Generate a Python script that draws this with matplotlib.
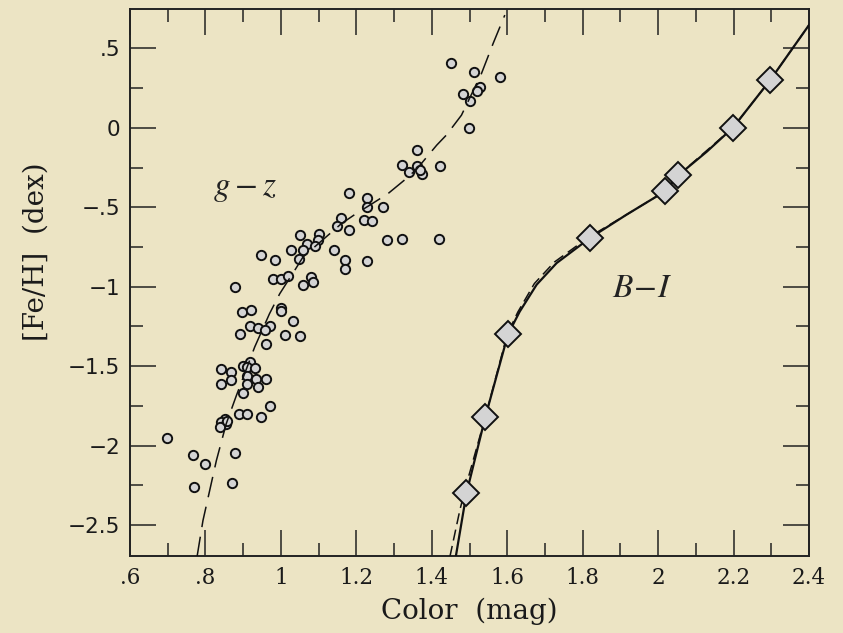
import matplotlib
matplotlib.use("Agg")
import matplotlib.pyplot as plt
from matplotlib.ticker import MultipleLocator, FixedLocator

plt.rcParams['lines.scale_dashes'] = False
plt.rcParams['mathtext.fontset'] = 'stix'

# ---- g-z individual clusters (open circles) ----
gz_x = [1.450, 1.511, 1.581, 1.527, 1.519, 1.482, 1.501, 1.499,
        1.360, 1.320, 1.360, 1.340, 1.373, 1.368, 1.421,
        1.180, 1.229, 1.229, 1.271,
        1.160, 1.148, 1.220, 1.242, 1.180,
        1.280, 1.320, 1.419,
        1.050, 1.100, 1.098, 1.070, 1.090, 1.028, 1.059, 1.048, 0.984, 0.948,
        1.140, 1.171, 1.171, 1.229,
        0.979, 1.001, 1.019, 1.081, 1.084, 1.059, 0.879,
        0.999, 0.999, 0.898, 0.922, 1.031,
        0.917, 0.939, 0.970, 0.957, 0.891, 1.010, 1.050, 0.960,
        0.840, 0.869, 0.869, 0.840, 0.900, 0.919, 0.910, 0.931, 0.910, 0.935,
        0.960, 0.910, 0.939, 0.900, 0.970, 0.889, 0.910, 0.948,
        0.851, 0.842, 0.855, 0.838, 0.858,
        0.698, 0.767, 0.800, 0.879, 0.769, 0.870]
gz_y = [0.41, 0.35, 0.32, 0.26, 0.23, 0.21, 0.17, 0.00,
        -0.14, -0.235, -0.24, -0.28, -0.29, -0.265, -0.24,
        -0.41, -0.44, -0.50, -0.50,
        -0.565, -0.62, -0.578, -0.586, -0.64,
        -0.708, -0.697, -0.697,
        -0.675, -0.666, -0.708, -0.729, -0.746, -0.768, -0.771, -0.828, -0.834, -0.798,
        -0.767, -0.834, -0.886, -0.838,
        -0.949, -0.949, -0.93, -0.939, -0.970, -0.991, -1.002,
        -1.132, -1.153, -1.160, -1.149, -1.216,
        -1.25, -1.258, -1.25, -1.275, -1.296, -1.307, -1.313, -1.363,
        -1.516, -1.538, -1.586, -1.615, -1.496, -1.475, -1.506, -1.510, -1.559, -1.579,
        -1.579, -1.615, -1.632, -1.670, -1.748, -1.80, -1.80, -1.821,
        -1.832, -1.853, -1.863, -1.884, -1.845,
        -1.951, -2.058, -2.115, -2.048, -2.258, -2.237]

# ---- g-z relation (dashed curve) ----
gzfit_x = [0.7775, 0.7934, 0.829, 0.855, 0.882, 0.9305, 0.9698, 0.997, 1.0366, 1.0587,
           1.125, 1.1605, 1.2019, 1.2355, 1.284, 1.327, 1.36, 1.4131, 1.4389, 1.4787,
           1.5318, 1.5627, 1.5936]
gzfit_y = [-2.703, -2.472, -2.094, -1.863, -1.685, -1.38, -1.170, -1.044, -0.897, -0.813,
           -0.676, -0.603, -0.536, -0.487, -0.414, -0.33, -0.26, -0.109, -0.045, 0.0797,
           0.3424, 0.5315, 0.7098]

# ---- B-I relation (diamonds + solid curve + dashed curve) ----
bi_x = [1.492, 1.542, 1.602, 1.819, 2.018, 2.053, 2.198, 2.297]
bi_y = [-2.30, -1.82, -1.30, -0.694, -0.40, -0.30, 0.0, 0.30]

bicurve_x = [1.4636, 1.492, 1.542, 1.602, 1.633, 1.678, 1.731, 1.819, 1.916, 2.018, 2.053,
             2.129, 2.198, 2.297, 2.40]
bicurve_y = [-2.70, -2.30, -1.82, -1.30, -1.157, -0.987, -0.851, -0.694, -0.547, -0.40, -0.30,
             -0.15, 0.0, 0.30, 0.647]

bidash_x = [1.448, 1.475, 1.497, 1.542, 1.600, 1.628, 1.672, 1.725, 1.815, 1.916, 2.018,
            2.053, 2.198, 2.297, 2.40]
bidash_y = [-2.70, -2.40, -2.20, -1.82, -1.30, -1.16, -0.98, -0.845, -0.69, -0.547, -0.40,
            -0.30, 0.0, 0.30, 0.647]

xticks = [0.6, 0.8, 1.0, 1.2, 1.4, 1.6, 1.8, 2.0, 2.2, 2.4]
xtick_labels = ['.6', '.8', '1', '1.2', '1.4', '1.6', '1.8', '2', '2.2', '2.4']
yticks = [0.5, 0.0, -0.5, -1.0, -1.5, -2.0, -2.5]
ytick_labels = ['.5', '0', '\u2212.5', '\u22121', '\u22121.5', '\u22122', '\u22122.5']

bg = '#ece4c4'
fig = plt.figure(figsize=(8.43, 6.33), dpi=100, facecolor=bg)
ax = fig.add_axes([130 / 843, (633 - 556) / 633, (809 - 130) / 843, (556 - 9) / 633])
ax.set_facecolor(bg)

ax.plot(gz_x, gz_y, linestyle='none', marker='o', markersize=6.7,
        markerfacecolor='#d4d4d4', markeredgecolor='#111111', markeredgewidth=1.4, zorder=3)
ax.plot(gzfit_x, gzfit_y, color='#111111', lw=1.1, dashes=(15, 7), zorder=4)

ax.plot(bidash_x, bidash_y, color='#111111', lw=1.1, dashes=(8, 4), zorder=4)
ax.plot(bicurve_x, bicurve_y, color='#111111', lw=1.6, zorder=5)
ax.plot(bi_x, bi_y, linestyle='none', marker='D', markersize=13,
        markerfacecolor='#d4d4d4', markeredgecolor='#111111', markeredgewidth=1.4, zorder=6)

ax.set_xlim(0.6, 2.4)
ax.set_ylim(-2.695, 0.748)

ax.xaxis.set_major_locator(FixedLocator(xticks))
ax.set_xticklabels(xtick_labels, family='DejaVu Serif', fontsize=15.5, color='#1a1a1a')
ax.xaxis.set_minor_locator(MultipleLocator(0.1))
ax.yaxis.set_major_locator(FixedLocator(yticks))
ax.set_yticklabels(ytick_labels, family='DejaVu Sans', fontsize=15.5, color='#1a1a1a')
ax.yaxis.set_minor_locator(MultipleLocator(0.25))

ax.tick_params(which='both', direction='in', top=True, right=True, color='#222222', width=1.1)
ax.tick_params(which='major', length=19)
ax.tick_params(which='minor', length=9.5)
ax.tick_params(axis='x', which='major', pad=8)
ax.tick_params(axis='y', which='major', pad=7)
for s in ax.spines.values():
    s.set_linewidth(1.4)
    s.set_color('#222222')

ax.set_xlabel('Color  (mag)', family='DejaVu Serif', fontsize=20, labelpad=6, color='#1a1a1a')
fig.text(36 / 843, 1 - 252 / 633, '[Fe/H]  (dex)', family='DejaVu Serif', fontsize=20,
         rotation=90, ha='center', va='center', color='#1a1a1a')

ax.text(0.904, -0.374, r'$g-z$', fontsize=24, ha='center', va='center', color='#222222')
ax.text(1.958, -1.004, r'$B\!-\!I$', fontsize=24, ha='center', va='center', color='#222222')

fig.savefig('out.png', dpi=100, facecolor=bg)
